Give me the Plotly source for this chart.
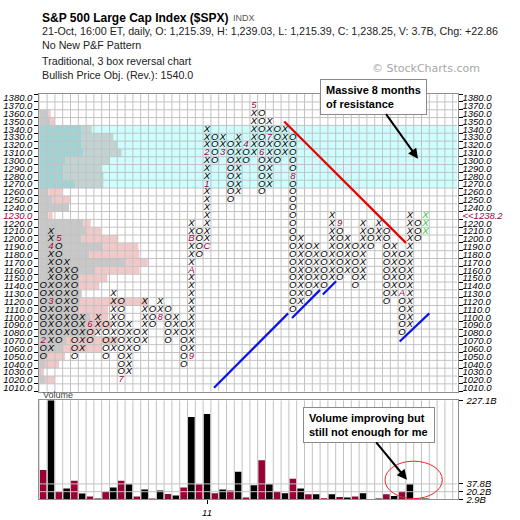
import plotly.graph_objects as go

# ------------------------------------------------------------------ DATA
box_size = 10
col_type = ['O', 'X', 'O', 'X', 'O', 'X', 'O', 'X', 'O', 'X',
            'O', 'X', 'O', 'X', 'O', 'X', 'O', 'X', 'O', 'X',
            'O', 'X', 'O', 'X', 'O', 'X', 'O', 'X', 'O', 'X',
            'O', 'X', 'O', 'X', 'O', 'X', 'O', 'X', 'O', 'X',
            'O', 'X', 'O', 'X', 'O', 'X', 'O', 'X', 'O', 'X']
col_low = [1050, 1060, 1070, 1080, 1050, 1060, 1070, 1080, 1050, 1060,
           1020, 1030, 1060, 1070, 1090, 1100, 1070, 1080, 1040, 1050,
           1180, 1190, 1300, 1310, 1250, 1260, 1300, 1310, 1260, 1270,
           1300, 1310, 1110, 1120, 1130, 1140, 1140, 1150, 1150, 1160,
           1140, 1150, 1190, 1200, 1120, 1130, 1080, 1090, 1200, 1210]
col_high = [1140, 1210, 1200, 1170, 1160, 1100, 1090, 1100, 1090, 1130,
            1120, 1090, 1080, 1120, 1110, 1120, 1110, 1100, 1090, 1220,
            1210, 1340, 1330, 1330, 1320, 1330, 1320, 1370, 1360, 1350,
            1340, 1340, 1330, 1200, 1190, 1190, 1180, 1230, 1220, 1200,
            1190, 1220, 1210, 1220, 1210, 1190, 1180, 1230, 1220, 1230]

month_col = [0, 1, 1, 2, 6, 10, 15, 19, 19, 19, 21, 21, 21, 23, 26, 27, 28, 29, 32, 38, 46]
month_price = [1070, 1120, 1190, 1200, 1090, 1020, 1100, 1050, 1160, 1200,
               1190, 1270, 1310, 1310, 1320, 1370, 1310, 1330, 1280, 1220, 1130]
month_label = ['2', '3', '4', '5', '6', '7', '8', '9', 'A', 'B',
               'C', '1', '2', '3', '4', '5', '6', '7', '8', '9', 'A']

today_col = 49
today_boxes = [1210, 1220, 1230]
last_price_label = '1238.2'
last_price_row = 1230

price_rows = [1380, 1370, 1360, 1350, 1340, 1330, 1320, 1310, 1300, 1290,
              1280, 1270, 1260, 1250, 1240, 1230, 1220, 1210, 1200, 1190,
              1180, 1170, 1160, 1150, 1140, 1130, 1120, 1110, 1100, 1090,
              1080, 1070, 1060, 1050, 1040, 1030, 1020, 1010]

# volume per P&F column (billions)
volume_b = [69.3, 227.1, 20.2, 27.3, 45.0, 16.2, 9.5, 5.0, 20.0, 29.5,
            45.0, 36.8, 9.5, 25.0, 5.0, 22.8, 14.7, 11.8, 29.5, 189.0,
            36.8, 196.0, 16.9, 25.0, 22.8, 65.0, 7.0, 34.5, 91.4, 36.8,
            20.2, 16.9, 49.4, 27.2, 14.6, 14.6, 5.1, 14.6, 8.0, 7.3,
            9.5, 16.9, 3.0, 5.0, 14.6, 10.2, 20.2, 36.8, 5.0, 5.0]
vol_ticks = [2.9, 20.2, 37.8, 227.1]
vol_ticktext = ['2.9B', '20.2B', '37.8B', '227.1B']

# volume-by-price (relative units, two components)
vbp_price = [1360, 1350, 1340, 1330, 1320, 1310, 1300, 1290, 1280, 1270,
             1260, 1250, 1240, 1230, 1220, 1210, 1200, 1190, 1180, 1170,
             1160, 1150, 1140, 1130, 1120, 1110, 1100, 1090, 1080, 1070,
             1060, 1050, 1040, 1030, 1020]
vbp_gray = [1.08, 1.37, 5.44, 5.44, 5.44, 5.64, 3.29, 3.08, 3.08, 4.58,
            1.15, 1.72, 3.81, 1.15, 5.64, 6.08, 5.44, 8.21, 6.41, 10.99,
            7.14, 5.09, 5.09, 5.44, 5.22, 4.71, 6.50, 5.86, 6.24, 3.42,
            3.04, 0.73, 0.73, 0.22, 0.73]
vbp_pink = [0.38, 0.64, 1.28, 4.05, 4.56, 4.92, 5.68, 4.92, 5.13, 3.63,
            1.79, 2.22, 0.00, 0.56, 0.95, 1.83, 4.69, 4.49, 6.41, 2.91,
            5.71, 3.63, 2.60, 0.00, 8.85, 4.10, 2.31, 3.46, 1.03, 6.54,
            5.00, 2.56, 1.79, 0.38, 1.28]

resist_zone = [1270, 1340]
year_col = [21]
year_label = ['11']

# 45-degree trend lines (column, price)
red_x = [30.9, 46.5]
red_y = [1350, 1195]
blue_lines_x = [[21.9, 31.4], [31.9, 35.5], [35.85, 37.55], [45.7, 49.5]]
blue_lines_y = [[1010, 1105], [1099, 1135], [1129, 1146], [1069, 1105]]

# ------------------------------------------------------------------ STYLE
W = H = 520
FONT = 'Liberation Sans, Arial, sans-serif'
MAROON = '#a3003f'
BARMAROON = '#990036'
GRID = '#c2c2c2'
FRAME = '#8f8f8f'

def px(x):
    return x / W

def py(y):
    return 1 - y / H

x_left_px, x_right_px = 39.3, 457.5
col_px = 7.8
xmin = -0.5
xmax = xmin + (x_right_px - x_left_px) / col_px
ymin, ymax = 1005, 1385

fig = go.Figure()

# volume-by-price bars
fig.add_trace(go.Bar(y=vbp_price, x=vbp_gray, base=[xmin] * len(vbp_gray),
                     orientation='h', width=box_size, marker=dict(color='#c8c8c8', line=dict(width=0)),
                     hoverinfo='skip', xaxis='x', yaxis='y', showlegend=False))
fig.add_trace(go.Bar(y=vbp_price, x=vbp_pink, base=[xmin + g for g in vbp_gray],
                     orientation='h', width=box_size, marker=dict(color='#f2c9c9', line=dict(width=0)),
                     hoverinfo='skip', xaxis='x', yaxis='y', showlegend=False))

# resistance band
zl, zh = resist_zone[0] - box_size / 2, resist_zone[1] + box_size / 2
fig.add_trace(go.Scatter(x=[xmin, xmax, xmax, xmin, xmin], y=[zl, zl, zh, zh, zl],
                         fill='toself', fillcolor='rgba(0,255,255,0.2)', line=dict(width=0),
                         mode='lines', hoverinfo='skip', showlegend=False))

# main grid
gx, gy = [], []
k = 0
while k - 0.5 <= xmax:
    gx += [k - 0.5, k - 0.5, None]
    gy += [ymin, ymax, None]
    k += 1
for p in price_rows[:-1]:
    b = p - box_size / 2
    gx += [xmin, xmax, None]
    gy += [b, b, None]
fig.add_trace(go.Scatter(x=gx, y=gy, mode='lines', line=dict(color=GRID, width=1),
                         hoverinfo='skip', showlegend=False))

# X / O boxes
months = {(c, p): m for c, p, m in zip(month_col, month_price, month_label)}
tx, ty, tt, tc = [], [], [], []
for i, (t, lo, hi) in enumerate(zip(col_type, col_low, col_high)):
    p = lo
    while p <= hi:
        lab, colr = t, 'black'
        if (i, p) in months:
            lab, colr = months[(i, p)], MAROON
        if i == today_col and p in today_boxes:
            colr = '#2ecc2e'
        tx.append(i)
        ty.append(p)
        tt.append(lab)
        tc.append(colr)
        p += box_size
fig.add_trace(go.Scatter(x=tx, y=ty, text=tt, mode='text',
                         textfont=dict(family=FONT, size=9.5, color=tc, style='italic'),
                         textposition='middle center', hoverinfo='skip', showlegend=False))

# trend lines
fig.add_trace(go.Scatter(x=red_x, y=red_y, mode='lines', line=dict(color='#e60000', width=2.2),
                         hoverinfo='skip', showlegend=False))
for bx, by in zip(blue_lines_x, blue_lines_y):
    fig.add_trace(go.Scatter(x=bx, y=by, mode='lines', line=dict(color='#0a14e6', width=2.2),
                             hoverinfo='skip', showlegend=False))

# dummy for right price axis
fig.add_trace(go.Scatter(x=[None], y=[None], xaxis='x', yaxis='y3', hoverinfo='skip', showlegend=False))

# volume bars
fig.add_trace(go.Bar(x=list(range(len(volume_b))), y=volume_b, width=0.86,
                     marker=dict(color=['black' if t == 'X' else BARMAROON for t in col_type], line=dict(width=0)),
                     xaxis='x2', yaxis='y2', hoverinfo='skip', showlegend=False))
vx, vy = [], []
k = 0
while k - 0.5 <= xmax:
    vx += [k - 0.5, k - 0.5, None]
    vy += [vol_ticks[0], vol_ticks[-1], None]
    k += 1
for v in vol_ticks[1:-1]:
    vx += [xmin, xmax, None]
    vy += [v, v, None]
fig.add_trace(go.Scatter(x=vx, y=vy, mode='lines', line=dict(color=GRID, width=1),
                         xaxis='x2', yaxis='y2', hoverinfo='skip', showlegend=False))

# ------------------------------------------------------------------ AXES
left_text = []
right_text = []
for p in price_rows:
    s = f'{p:.1f}'
    if p == last_price_row:
        left_text.append(f'<span style="color:{MAROON}">{s}</span>')
        right_text.append(f'<span style="color:{MAROON}">&lt;&lt;{last_price_label}</span>')
    else:
        left_text.append(s)
        right_text.append(s)

tickfont = dict(family=FONT, size=9.5, color='black', style='italic')
minor = dict(ticks='outside', ticklen=4, tickcolor='black', tick0=ymin + box_size, dtick=box_size, showgrid=False)

main_dom_y = [py(394), py(90)]
vol_dom_y = [py(504), py(402.7)]
dom_x = [px(x_left_px), px(x_right_px)]

fig.update_layout(
    width=W, height=H, autosize=False,
    margin=dict(l=0, r=0, t=0, b=0),
    paper_bgcolor='white', plot_bgcolor='white',
    barmode='overlay', showlegend=False,
    font=dict(family=FONT),
    xaxis=dict(domain=dom_x, range=[xmin, xmax], showgrid=False, zeroline=False,
               showticklabels=False, ticks='', showline=True, mirror=True, linecolor=FRAME,
               anchor='y', fixedrange=True),
    yaxis=dict(domain=main_dom_y, range=[ymin, ymax], showgrid=False, zeroline=False,
               tickmode='array', tickvals=price_rows, ticktext=left_text, ticks='',
               tickfont=tickfont, minor=minor, showline=True, mirror=True, linecolor=FRAME,
               ticklabelstandoff=4, anchor='x'),
    yaxis3=dict(overlaying='y', side='right', range=[ymin, ymax], showgrid=False, zeroline=False,
                tickmode='array', tickvals=price_rows, ticktext=right_text, ticks='',
                tickfont=tickfont, minor=minor, showline=False, anchor='x', ticklabelstandoff=4),
    xaxis2=dict(domain=dom_x, range=[xmin, xmax], showgrid=False, zeroline=False,
                tickmode='array', tickvals=year_col, ticktext=year_label, ticks='outside',
                ticklen=4, tickcolor='black', tickfont=tickfont, showline=True, mirror=True,
                linecolor=FRAME, anchor='y2'),
    yaxis2=dict(domain=vol_dom_y, range=[vol_ticks[0], vol_ticks[-1]], side='right', showgrid=False,
                zeroline=False, tickmode='array', tickvals=vol_ticks, ticktext=vol_ticktext,
                ticks='outside', ticklen=4, tickcolor='black', tickfont=tickfont,
                showline=True, mirror=True, linecolor=FRAME, anchor='x2', ticklabelstandoff=2),
)

# ------------------------------------------------------------------ TEXT
ann = []
def txt(x, y, s, size=10.7, color='#222', bold=False, xanchor='left', family=FONT):
    ann.append(dict(xref='paper', yref='paper', x=px(x), y=py(y), text=(f'<b>{s}</b>' if bold else s),
                    showarrow=False, xanchor=xanchor, yanchor='middle',
                    font=dict(family=family, size=size, color=color)))

txt(40, 12, 'S&amp;P 500 Large Cap Index ($SPX)', size=12, color='black', bold=True)
txt(231, 12.5, 'INDX', size=9, color='#555')
txt(40, 26, '21-Oct, 16:00 ET, daily, O: 1,215.39, H: 1,239.03, L: 1,215.39, C: 1,238.25, V: 3.7B, Chg: +22.86')
txt(40, 40, 'No New P&amp;F Pattern')
txt(40, 56, 'Traditional, 3 box reversal chart')
txt(40, 71, 'Bullish Price Obj. (Rev.): 1540.0')
txt(370, 64, '© StockCharts.com', size=11, color='#a8a8a8', family='DejaVu Sans, sans-serif')
txt(41, 397.5, 'Volume', size=9, color='#444')

for (bx, by, s, w) in [(319.5, 75, 'Massive 8 months<br>of resistance', 95),
                       (303.3, 409.3, 'Volume improving but<br>still not enough for me', 120)]:
    ann.append(dict(xref='paper', yref='paper', x=px(bx), y=py(by), xanchor='left', yanchor='top',
                    text=f'<b>{s}</b>', showarrow=False, align='left', width=w, height=24,
                    font=dict(family=FONT, size=11, color='black'),
                    bgcolor='white', bordercolor='#8a8a8a', borderwidth=1, borderpad=5))

for (hx, hy, tx0, ty0) in [(418, 156, 385, 110), (407, 484, 375, 445)]:
    ann.append(dict(xref='paper', yref='paper', x=px(hx), y=py(hy), ax=tx0 - hx, ay=ty0 - hy,
                    text='', showarrow=True, arrowhead=2, arrowsize=1, arrowwidth=2,
                    arrowcolor='black'))

fig.update_layout(annotations=ann)
fig.add_shape(type='circle', xref='paper', yref='paper', x0=px(385), x1=px(442.3),
              y0=py(503.3), y1=py(465), line=dict(color='#e8262a', width=1))

fig.write_html('out.html', config={'displayModeBar': False, 'staticPlot': True},
               post_script="document.body.style.margin='0';document.body.style.padding='0';"
                           "document.body.style.overflow='hidden';")
